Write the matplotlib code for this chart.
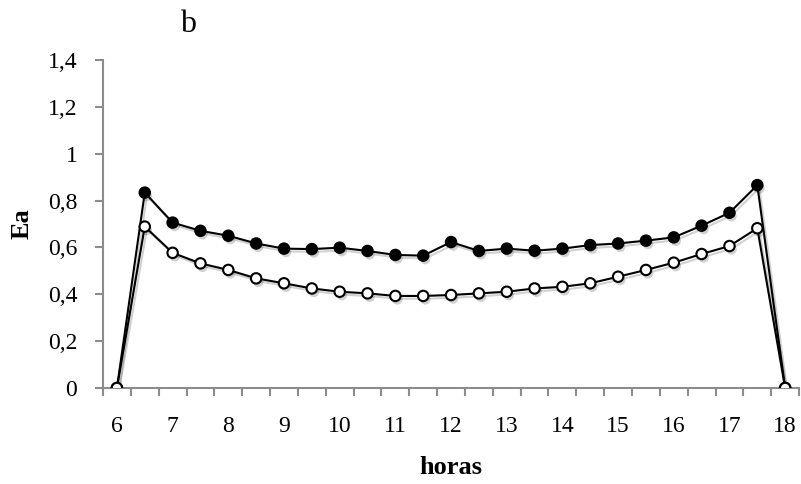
import matplotlib.pyplot as plt
import matplotlib.patheffects as pe
from matplotlib.ticker import FixedLocator

# horas (cada media hora) y valores de Ea
horas = [6, 6.5, 7, 7.5, 8, 8.5, 9, 9.5, 10, 10.5, 11, 11.5, 12,
         12.5, 13, 13.5, 14, 14.5, 15, 15.5, 16, 16.5, 17, 17.5, 18]
ea_lleno = [0, 0.834, 0.706, 0.671, 0.650, 0.617, 0.595, 0.593, 0.599, 0.585,
            0.568, 0.565, 0.623, 0.585, 0.595, 0.586, 0.595, 0.610, 0.617,
            0.629, 0.643, 0.693, 0.748, 0.866, 0]
ea_abierto = [0, 0.689, 0.577, 0.532, 0.504, 0.468, 0.447, 0.425, 0.411, 0.404,
              0.393, 0.393, 0.397, 0.404, 0.411, 0.425, 0.432, 0.447, 0.475,
              0.504, 0.535, 0.572, 0.606, 0.682, 0]
etiquetas_x = list(range(6, 19))
etiquetas_y = [0, 0.2, 0.4, 0.6, 0.8, 1, 1.2, 1.4]

plt.rcParams['font.family'] = ['Liberation Serif', 'DejaVu Serif']

fig = plt.figure(figsize=(8.01, 4.84), dpi=100)
ax = fig.add_axes([0.1286, 0.1983, 0.869, 0.6777])

sombra_linea = [pe.SimpleLineShadow(offset=(1.5, -2), alpha=0.18, shadow_color='k'), pe.Normal()]
sombra_marca = [pe.SimplePatchShadow(offset=(1.5, -2.5), alpha=0.18, shadow_rgbFace='k'), pe.Normal()]

# la serie de circulos blancos va encima (se ve en los extremos 6 y 18)
for serie, relleno, z in [(ea_lleno, 'black', 3), (ea_abierto, 'white', 4)]:
    ax.plot(horas, serie, color='black', lw=1.5, zorder=z, path_effects=sombra_linea)
    ax.plot(horas, serie, ls='none', marker='o', ms=7.5, mfc=relleno, mec='black',
            mew=1.5, zorder=z + 0.5, path_effects=sombra_marca)

ax.set_xlim(5.75, 18.25)
ax.set_ylim(0, 1.4)

ax.set_xticks(etiquetas_x)
ax.set_xticklabels([str(h) for h in etiquetas_x])
ax.xaxis.set_minor_locator(FixedLocator([5.75 + 0.5 * k for k in range(26)]))
ax.tick_params(axis='x', which='major', length=0, pad=20, labelsize=17)
ax.tick_params(axis='x', which='minor', length=5.5, width=1.5, color='#8c8c8c', direction='out')

ax.set_yticks(etiquetas_y)
ax.set_yticklabels([f"{v:g}".replace('.', ',') for v in etiquetas_y])
ax.tick_params(axis='y', length=5.5, width=1.5, color='#8c8c8c', pad=13, labelsize=17)

for lado in ['top', 'right']:
    ax.spines[lado].set_visible(False)
for lado in ['left', 'bottom']:
    ax.spines[lado].set_color('#8c8c8c')
    ax.spines[lado].set_linewidth(1.5)

ax.set_xlabel('horas', fontsize=19, fontweight='bold', labelpad=14)
ax.set_ylabel('Ea', fontsize=19, fontweight='bold', labelpad=10)
fig.text(0.235, 0.950, 'b', fontsize=23, ha='center', va='center')

fig.savefig('out.png', dpi=100)
